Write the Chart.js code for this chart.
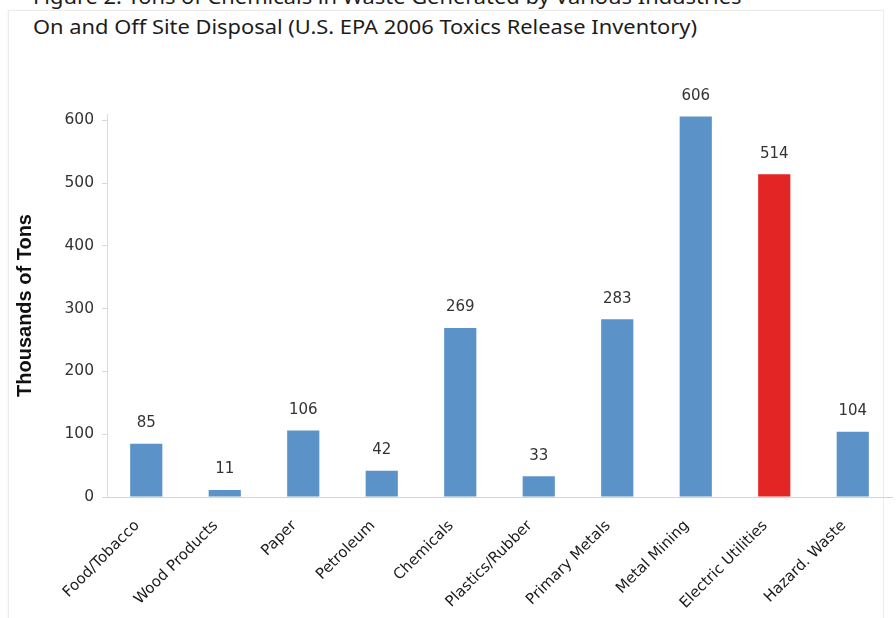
<!DOCTYPE html>
<html>
<head>
<meta charset="utf-8">
<script src="https://cdn.jsdelivr.net/npm/chart.js@4.4.1/dist/chart.umd.min.js"></script>
<style>
  html, body { margin: 0; padding: 0; background: #fff; overflow: hidden; }
  #wrap { position: relative; width: 896px; height: 618px; overflow: hidden; }
  #panel { position: absolute; left: 8px; top: 10px; width: 874px; height: 610px; border: 1px solid #ececec; box-shadow: -1px 0 2px rgba(0,0,0,0.04); }
  #title { position: absolute; left: 33px; top: -18px; font-family: "Noto Sans", sans-serif; font-size: 20px; line-height: 30px; color: #1c1c1c; white-space: nowrap; transform-origin: 0 0; }
  canvas { position: absolute; left: 0; top: 0; }
</style>
</head>
<body>
<div id="wrap">
  <div id="panel"></div>
  <div id="title"><span id="t1">Figure 2. Tons of Chemicals in Waste Generated by Various Industries</span><br><span id="t2">On and Off Site Disposal (U.S. EPA 2006 Toxics Release Inventory)</span></div>
  <canvas id="c" width="896" height="618"></canvas>
</div>
<script>
const categories = ["Food/Tobacco", "Wood Products", "Paper", "Petroleum", "Chemicals", "Plastics/Rubber", "Primary Metals", "Metal Mining", "Electric Utilities", "Hazard. Waste"];
const values = [85, 11, 106, 42, 269, 33, 283, 606, 514, 104];
const highlighted = "Electric Utilities";
const yTicks = [0, 100, 200, 300, 400, 500, 600];
const yAxisTitle = "Thousands of Tons";

const BLUE = "#5b93c9";
const RED = "#e42526";

// widen the title to match the reference's wider typeface
(function () {
  const t2 = document.getElementById("t2");
  const w = t2.getBoundingClientRect().width;
  if (w > 0) document.getElementById("title").style.transform = "scaleX(" + (664 / w) + ")";
})();

const barLabels = {
  id: "barLabels",
  afterDatasetsDraw(chart) {
    const ctx = chart.ctx;
    const meta = chart.getDatasetMeta(0);
    ctx.save();
    ctx.font = "15px 'DejaVu Sans', sans-serif";
    ctx.fillStyle = "#333";
    ctx.textAlign = "center";
    ctx.textBaseline = "bottom";
    meta.data.forEach((bar, i) => {
      ctx.fillText(String(values[i]), bar.x, bar.y - 13);
    });
    ctx.restore();
  }
};

new Chart(document.getElementById("c"), {
  type: "bar",
  data: {
    labels: categories,
    datasets: [{
      data: values,
      backgroundColor: categories.map(c => c === highlighted ? RED : BLUE),
      borderWidth: 0,
      barPercentage: 0.41,
      categoryPercentage: 1.0
    }]
  },
  options: {
    responsive: false,
    devicePixelRatio: 1,
    animation: false,
    layout: { padding: { top: 114, right: 4, left: 0, bottom: 0 } },
    plugins: { legend: { display: false }, tooltip: { enabled: false } },
    scales: {
      x: {
        grid: { display: false, drawTicks: false },
        border: { display: true, color: "#d4d4d4", width: 1 },
        ticks: {
          autoSkip: false,
          maxRotation: 45,
          minRotation: 45,
          padding: 20,
          labelOffset: -9,
          color: "#1a1a1a",
          font: { family: "'DejaVu Sans', sans-serif", size: 15 }
        },
        afterFit(scale) { scale.height = 121; }
      },
      y: {
        min: 0,
        max: 610,
        afterBuildTicks(scale) { scale.ticks = yTicks.map(v => ({ value: v })); },
        grid: { display: true, drawOnChartArea: false, drawTicks: true, tickLength: 5, color: "#d8d8d8" },
        border: { display: true, color: "#dcdcdc", width: 1 },
        ticks: {
          padding: 8,
          color: "#333",
          font: { family: "'DejaVu Sans', sans-serif", size: 15.5 }
        },
        title: {
          display: true,
          text: yAxisTitle,
          color: "#111",
          font: { family: "'Liberation Sans', Arial, sans-serif", size: 20, weight: "bold" },
          padding: { top: 13, bottom: 4 }
        },
        afterFit(scale) { scale.width = 107; }
      }
    }
  },
  plugins: [barLabels]
});
</script>
</body>
</html>
